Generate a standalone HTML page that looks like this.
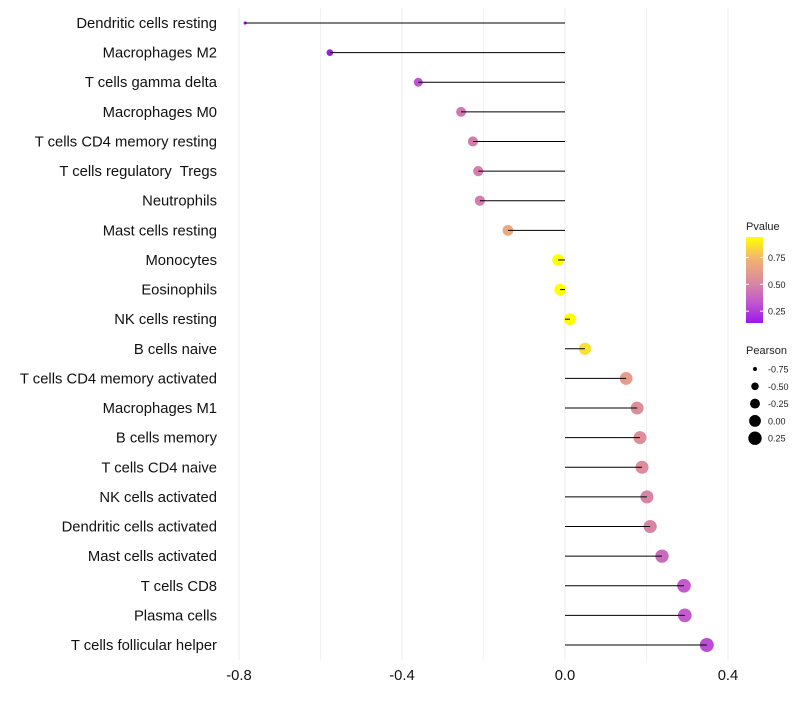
<!DOCTYPE html>
<html><head><meta charset="utf-8"><style>
body{margin:0;background:#fff;font-family:"Liberation Sans",sans-serif}
text{white-space:pre}
</style></head><body>
<svg id="chart" width="800" height="700" xmlns="http://www.w3.org/2000/svg">
<g id="grid"></g>
<g id="marks"></g>
<g id="stems"></g>
<g id="axes"></g>
<g id="legend"></g>
</svg>
<script>
const categories=["Dendritic cells resting","Macrophages M2","T cells gamma delta","Macrophages M0","T cells CD4 memory resting","T cells regulatory  Tregs","Neutrophils","Mast cells resting","Monocytes","Eosinophils","NK cells resting","B cells naive","T cells CD4 memory activated","Macrophages M1","B cells memory","T cells CD4 naive","NK cells activated","Dendritic cells activated","Mast cells activated","T cells CD8","Plasma cells","T cells follicular helper"];
const pearson=[-0.785,-0.577,-0.36,-0.255,-0.226,-0.213,-0.209,-0.14,-0.017,-0.012,0.012,0.049,0.15,0.177,0.184,0.189,0.201,0.209,0.238,0.292,0.294,0.348];
const pvalue=[0.14,0.15,0.32,0.45,0.47,0.48,0.48,0.68,0.94,0.94,0.93,0.86,0.62,0.55,0.55,0.54,0.50,0.50,0.40,0.34,0.34,0.30];
const xTicks=[-0.8,-0.4,0.0,0.4];
const xTickLabels=["-0.8","-0.4","0.0","0.4"];
const sizeBreaks=[-0.75,-0.5,-0.25,0,0.25];
const sizeLabels=["-0.75","-0.50","-0.25","0.00","0.25"];
const pBreaks=[0.25,0.5,0.75];
const pLabels=["0.25","0.50","0.75"];

const NS="http://www.w3.org/2000/svg";
function mk(t,a,p){const e=document.createElementNS(NS,t);for(const k in a)e.setAttribute(k,a[k]);p.appendChild(e);return e;}
const xS=v=>565+v*407.5;
const yS=i=>23+i*(622/21);
const pMin=0.14,pMax=0.94;
const stops=[[0,[155,25,235]],[0.25,[195,90,205]],[0.45,[216,132,165]],[0.75,[242,180,112]],[1,[255,255,0]]];
function col(p){let t=(p-pMin)/(pMax-pMin);t=Math.max(0,Math.min(1,t));for(let i=1;i<stops.length;i++){if(t<=stops[i][0]){const a=stops[i-1],b=stops[i];const f=(t-a[0])/(b[0]-a[0]);const c=a[1].map((v,j)=>Math.round(v+(b[1][j]-v)*f));return `rgb(${c})`;}}return "rgb(255,255,0)";}
const rS=v=>Math.sqrt(Math.max(1,2.5+41*(v+0.785)));

const grid=document.getElementById('grid'),marks=document.getElementById('marks'),stems=document.getElementById('stems'),axes=document.getElementById('axes'),leg=document.getElementById('legend');
[-0.6,-0.2,0.2].forEach(v=>{const l=mk('line',{x1:xS(v),x2:xS(v),y1:8,y2:660,stroke:'#f2f2f2','stroke-width':1},grid);

});
xTicks.forEach((v,i)=>{const l=mk('line',{x1:xS(v),x2:xS(v),y1:8,y2:660,stroke:'#ebebeb','stroke-width':1},grid);


const t=mk('text',{x:xS(v),y:680,'text-anchor':'middle','font-size':14.8,fill:'#111'},axes);t.textContent=xTickLabels[i];

});
categories.forEach((c,i)=>{const y=yS(i);
const t=mk('text',{x:217,y:y+5,'text-anchor':'end','font-size':14.8,fill:'#111'},axes);t.textContent=c;


const d=mk('circle',{cx:xS(pearson[i]),cy:y,r:rS(pearson[i]),fill:col(pvalue[i])},marks);


const l=mk('line',{x1:xS(0),x2:xS(pearson[i]),y1:y,y2:y,stroke:'#000','stroke-width':1},stems);

});
let t=mk('text',{x:746,y:230,'font-size':11,fill:'#222'},leg);t.textContent="Pvalue";


const defs=mk('defs',{},leg);const g=mk('linearGradient',{id:'pg',x1:0,y1:1,x2:0,y2:0},defs);
for(let k=0;k<=20;k++){mk('stop',{offset:k/20,'stop-color':col(pMin+(pMax-pMin)*k/20)},g);}
const bar=mk('rect',{x:746,y:237,width:17,height:86,fill:'url(#pg)'},leg);


const pY=p=>237+(pMax-p)/(pMax-pMin)*86;
pBreaks.forEach((p,i)=>{mk('line',{x1:746,x2:749,y1:pY(p),y2:pY(p),stroke:'#fff'},leg);mk('line',{x1:760,x2:763,y1:pY(p),y2:pY(p),stroke:'#fff'},leg);
const tt=mk('text',{x:768,y:pY(p)+3.5,'font-size':9,fill:'#222'},leg);tt.textContent=pLabels[i];

});
t=mk('text',{x:746,y:354,'font-size':11,fill:'#222'},leg);t.textContent="Pearson";


sizeBreaks.forEach((v,i)=>{const y=369+i*17.3;
const c=mk('circle',{cx:755,cy:y,r:rS(v),fill:'#000'},leg);


const tt=mk('text',{x:768,y:y+3.5,'font-size':9,fill:'#222'},leg);tt.textContent=sizeLabels[i];

});
</script>
</body></html>
